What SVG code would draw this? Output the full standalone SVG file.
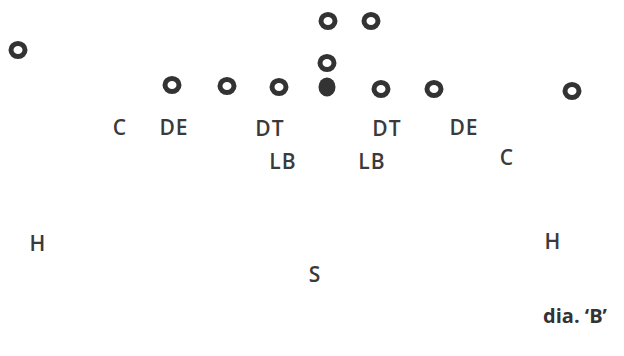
<svg xmlns="http://www.w3.org/2000/svg" width="624" height="356" viewBox="0 0 624 356">
<style>
.o{fill:none;stroke:#333;stroke-width:5}
.lb{font-family:"Open Sans","Liberation Sans",sans-serif;font-size:21px;font-weight:600;fill:#3a3a3a;text-anchor:middle;letter-spacing:1px}
.cap{font-family:"Open Sans","Liberation Sans",sans-serif;font-size:20px;font-weight:700;fill:#333;text-anchor:middle}
</style>
<rect width="624" height="356" fill="#fff"/>
<g id="offense">
<g id="wr-left"><ellipse class="o" cx="18" cy="50" rx="7" ry="6.5"/></g>
<g id="back-1"><ellipse class="o" cx="328" cy="21" rx="7" ry="6.5"/></g>
<g id="back-2"><ellipse class="o" cx="371" cy="21" rx="7" ry="6.5"/></g>
<g id="qb"><ellipse class="o" cx="327" cy="63" rx="7" ry="6.5"/></g>
<g id="ball"><ellipse cx="327" cy="87" rx="8.5" ry="9.5" fill="#333"/></g>
<g id="ol-1"><ellipse class="o" cx="172" cy="85" rx="7" ry="6.5"/></g>
<g id="ol-2"><ellipse class="o" cx="227" cy="86" rx="7" ry="6.5"/></g>
<g id="ol-3"><ellipse class="o" cx="279" cy="87" rx="7" ry="6.5"/></g>
<g id="ol-4"><ellipse class="o" cx="381" cy="89" rx="7" ry="6.5"/></g>
<g id="ol-5"><ellipse class="o" cx="434" cy="89" rx="7" ry="6.5"/></g>
<g id="wr-right"><ellipse class="o" cx="572" cy="91" rx="7" ry="6.5"/></g>
</g>
<g id="defense">
<g id="c-left"><text class="lb" x="120" y="135">C</text></g>
<g id="de-left"><text class="lb" x="174" y="135">DE</text></g>
<g id="dt-left"><text class="lb" x="270" y="136">DT</text></g>
<g id="dt-right"><text class="lb" x="387" y="136">DT</text></g>
<g id="de-right"><text class="lb" x="464" y="135">DE</text></g>
<g id="c-right"><text class="lb" x="507" y="165">C</text></g>
<g id="lb-left"><text class="lb" x="283" y="169">LB</text></g>
<g id="lb-right"><text class="lb" x="372" y="169">LB</text></g>
<g id="h-left"><text class="lb" x="38" y="251">H</text></g>
<g id="h-right"><text class="lb" x="553" y="249">H</text></g>
<g id="s"><text class="lb" x="315" y="282">S</text></g>
</g>
<g id="connectors"></g>
<text class="cap" x="575" y="323">dia. ‘B’</text>
</svg>
